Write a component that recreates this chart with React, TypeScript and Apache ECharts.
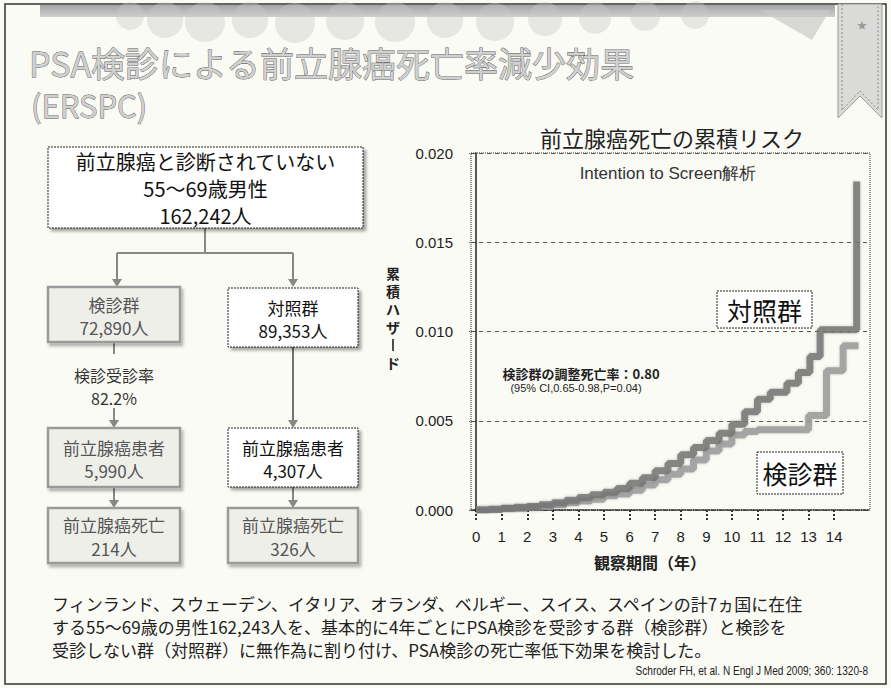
import React, { useEffect, useRef } from 'react';
import * as echarts from 'echarts';

// ---- data ----
const xTicks = [0, 1, 2, 3, 4, 5, 6, 7, 8, 9, 10, 11, 12, 13, 14];
const yTickStep = 0.005;
const controlYears = [0, 0.5, 1, 1.5, 2, 2.5, 3, 3.5, 4, 4.5, 5, 5.5, 6, 6.5, 7, 7.5, 8, 8.5, 9, 9.5, 10, 10.5, 11, 11.5, 12.15, 12.6, 13.05, 13.45, 14.88];
const controlHazard = [0, 0.00004, 0.0001, 0.00015, 0.0002, 0.0003, 0.0004, 0.00055, 0.0007, 0.00085, 0.001, 0.0012, 0.0015, 0.0018, 0.0022, 0.0026, 0.0031, 0.0035, 0.0039, 0.0043, 0.0048, 0.0055, 0.0062, 0.0066, 0.0071, 0.0077, 0.0086, 0.0101, 0.0184];
const screeningYears = [0, 0.5, 1, 1.5, 2, 2.5, 3, 3.5, 4, 4.5, 5, 5.5, 6, 6.5, 7, 7.5, 8, 8.5, 9, 9.5, 10, 10.5, 11, 13.0, 13.7, 14.35, 14.95];
const screeningHazard = [0, 0.00003, 0.00008, 0.0001, 0.00015, 0.0002, 0.0003, 0.0004, 0.0005, 0.0006, 0.0008, 0.0009, 0.0011, 0.0014, 0.0017, 0.002, 0.0023, 0.0028, 0.0033, 0.0037, 0.0042, 0.0044, 0.0045, 0.0053, 0.0078, 0.0092, 0.0092];

const slideTitle = ['PSA検診による前立腺癌死亡率減少効果', '(ERSPC)'];
const chartTitle = '前立腺癌死亡の累積リスク';
const subTitle = 'Intention to Screen解析';
const yAxisName = ['累', '積', 'ハ', 'ザ', 'ー', 'ド'];
const xAxisName = '観察期間（年）';
const controlLabel = '対照群';
const screeningLabel = '検診群';
const resultLines = ['検診群の調整死亡率：0.80', '(95% CI,0.65-0.98,P=0.04)'];
const flowTexts = {
  top: ['前立腺癌と診断されていない', '55〜69歳男性', '162,242人'],
  screen: ['検診群', '72,890人'],
  control: ['対照群', '89,353人'],
  rate: ['検診受診率', '82.2%'],
  screenPatients: ['前立腺癌患者', '5,990人'],
  controlPatients: ['前立腺癌患者', '4,307人'],
  screenDeaths: ['前立腺癌死亡', '214人'],
  controlDeaths: ['前立腺癌死亡', '326人'],
};
const bodyLines = [
  'フィンランド、スウェーデン、イタリア、オランダ、ベルギー、スイス、スペインの計7ヵ国に在住',
  'する55〜69歳の男性162,243人を、基本的に4年ごとにPSA検診を受診する群（検診群）と検診を',
  '受診しない群（対照群）に無作為に割り付け、PSA検診の死亡率低下効果を検討した。',
];
const citation = 'Schroder FH, et al. N Engl J Med 2009; 360: 1320-8';

const FF = "'Noto Sans CJK JP', 'Noto Sans', sans-serif";
const LF = "'Liberation Sans', Arial, sans-serif";

function box(x: number, y: number, w: number, h: number, lines: string[], kind: 'white' | 'gray', fontSize: number, lineHeight: number) {
  const rect = kind === 'white'
    ? { type: 'rect', shape: { x, y, width: w, height: h }, style: { fill: '#ffffff', stroke: '#222', lineWidth: 1, lineDash: [2, 1], shadowBlur: 3, shadowOffsetX: 3, shadowOffsetY: 3, shadowColor: 'rgba(0,0,0,0.35)' }, z: 10 }
    : { type: 'rect', shape: { x, y, width: w, height: h }, style: { fill: '#efefea', stroke: '#9a9a9a', lineWidth: 2.5, shadowBlur: 3, shadowOffsetX: 2, shadowOffsetY: 3, shadowColor: 'rgba(0,0,0,0.3)' }, z: 10 };
  const text = {
    type: 'text', x: x + w / 2, y: y + h / 2 + 1, z: 11,
    style: { text: lines.join('\n'), fill: kind === 'white' ? '#111' : '#555', font: `${fontSize}px ${FF}`, align: 'center', verticalAlign: 'middle', lineHeight },
  };
  return [rect, text];
}

function vline(x: number, y1: number, y2: number, color = '#888', width = 2) {
  return { type: 'line', shape: { x1: x, y1, x2: x, y2 }, style: { stroke: color, lineWidth: width }, z: 9 };
}
function hline(x1: number, x2: number, y: number, color = '#888', width = 2) {
  return { type: 'line', shape: { x1, y1: y, x2, y2: y }, style: { stroke: color, lineWidth: width }, z: 9 };
}
function arrowHead(x: number, y: number, color = '#888') {
  return { type: 'polygon', shape: { points: [[x - 5, y - 8], [x + 5, y - 8], [x, y]] }, style: { fill: color }, z: 9 };
}

export default function App() {
  const ref = useRef<HTMLDivElement>(null);
  useEffect(() => {
    document.body.style.margin = '0';
    const chart = echarts.init(ref.current!, null, { renderer: 'svg' });

    const graphics: any[] = [];
    // slide frame
    graphics.push({ type: 'rect', shape: { x: 5, y: 4, width: 881, height: 680 }, style: { fill: 'none', stroke: '#333', lineWidth: 1.5 }, z: 1 });
    // header band and clouds
    graphics.push({ type: 'rect', shape: { x: 40, y: 5, width: 795, height: 12 }, style: { fill: new echarts.graphic.LinearGradient(0, 0, 0, 1, [{ offset: 0, color: '#a4a4a4' }, { offset: 1, color: '#cfcfcf' }]) }, z: 1 });
    const clouds = [[130, 16, 14], [165, 20, 18], [205, 22, 20], [250, 20, 18], [295, 23, 20], [345, 21, 19], [395, 22, 20], [445, 20, 18], [495, 22, 19], [545, 19, 17], [595, 18, 16], [645, 16, 15], [695, 15, 14]];
    clouds.forEach(([cx, cy, r]) => graphics.push({ type: 'circle', shape: { cx, cy, r }, style: { fill: '#c8c8c8', opacity: 0.4 }, z: 1 }));
    graphics.push({ type: 'polygon', shape: { points: [[760, 10], [830, 10], [812, 40]] }, style: { fill: '#c9c9c9', opacity: 0.7 }, z: 1 });
    // ribbon
    graphics.push({ type: 'polygon', shape: { points: [[838, 4], [882, 4], [882, 118], [860, 96], [838, 118]] }, style: { fill: '#dadad8', stroke: '#999', lineWidth: 1 }, z: 2 });
    graphics.push({ type: 'polyline', shape: { points: [[842, 4], [842, 110], [860, 91], [878, 110], [878, 4]] }, style: { stroke: '#888', lineWidth: 1, lineDash: [2, 2], fill: 'none' }, z: 2 });
    graphics.push({ type: 'text', x: 862, y: 24, style: { text: '★', fill: '#999', font: `10px ${FF}`, align: 'center', verticalAlign: 'middle' }, z: 3 });
    // slide title
    graphics.push({ type: 'text', x: 29, y: 62, style: { text: slideTitle[0], fill: '#d0d0d0', stroke: '#555', lineWidth: 0.8, font: `34px ${FF}`, align: 'left', verticalAlign: 'middle', lineHeight: 34 }, z: 4 });
    graphics.push({ type: 'text', x: 31, y: 104, style: { text: slideTitle[1], fill: '#d0d0d0', stroke: '#555', lineWidth: 0.8, font: `31px ${FF}`, align: 'left', verticalAlign: 'middle', lineHeight: 31 }, z: 4 });

    // flowchart
    graphics.push(...box(48, 147, 315, 81, flowTexts.top, 'white', 20, 27));
    graphics.push(...box(48, 287, 132, 55, flowTexts.screen, 'gray', 17, 23));
    graphics.push(...box(228, 288, 130, 59, flowTexts.control, 'white', 17, 23));
    graphics.push(...box(48, 428, 132, 59, flowTexts.screenPatients, 'gray', 17, 23));
    graphics.push(...box(228, 428, 130, 59, flowTexts.controlPatients, 'white', 17, 23));
    graphics.push(...box(48, 508, 132, 55, flowTexts.screenDeaths, 'gray', 17, 24));
    graphics.push(...box(228, 508, 130, 55, flowTexts.controlDeaths, 'gray', 17, 24));
    graphics.push({ type: 'text', x: 114, y: 386, style: { text: flowTexts.rate.join('\n'), fill: '#333', font: `16px ${FF}`, align: 'center', verticalAlign: 'middle', lineHeight: 23 }, z: 11 });
    graphics.push(vline(205, 228, 253));
    graphics.push(hline(117, 293, 253));
    graphics.push(vline(117, 253, 280), arrowHead(117, 287));
    graphics.push(vline(293, 253, 280), arrowHead(293, 287));
    graphics.push(vline(114, 342, 354));
    graphics.push(vline(114, 408, 421), arrowHead(114, 428));
    graphics.push(vline(293, 347, 421, '#444', 1.5), arrowHead(293, 428));
    graphics.push(vline(114, 487, 501), arrowHead(114, 508));
    graphics.push(vline(293, 487, 501), arrowHead(293, 508));

    // chart annotations
    graphics.push({ type: 'text', x: 668, y: 173, style: { text: subTitle, fill: '#333', font: `17px ${LF}`, align: 'center', verticalAlign: 'middle' }, z: 20 });
    // vertical y-axis name: one text block; the long-vowel mark is drawn as a vertical stroke
    const nameLH = 18;
    const nameTop = 264;
    const nameText = yAxisName.map((ch) => (ch === 'ー' ? '{h|ー}' : ch)).join('\n');
    graphics.push({ type: 'text', x: 393, y: nameTop, style: { text: nameText, fill: '#222', font: `bold 14px ${FF}`, align: 'center', verticalAlign: 'top', lineHeight: nameLH, rich: { h: { fill: 'rgba(0,0,0,0)', font: `bold 14px ${FF}`, lineHeight: nameLH } } }, z: 20 });
    const dashIdx = yAxisName.indexOf('ー');
    const dashY = nameTop + nameLH * dashIdx + nameLH / 2;
    graphics.push({ type: 'line', shape: { x1: 393, y1: dashY - 6, x2: 393, y2: dashY + 6 }, style: { stroke: '#222', lineWidth: 1.6 }, z: 20 });
    graphics.push({ type: 'text', x: 650, y: 562, style: { text: xAxisName, fill: '#222', font: `bold 16px ${FF}`, align: 'center', verticalAlign: 'middle' }, z: 20 });
    graphics.push({ type: 'text', x: 581, y: 373, style: { text: resultLines[0], fill: '#222', font: `bold 13px ${FF}`, align: 'center', verticalAlign: 'middle' }, z: 20 });
    graphics.push({ type: 'text', x: 576, y: 388, style: { text: resultLines[1], fill: '#222', font: `11px ${LF}`, align: 'center', verticalAlign: 'middle' }, z: 20 });
    graphics.push({ type: 'rect', shape: { x: 717, y: 291, width: 95, height: 37 }, style: { fill: '#ffffff', stroke: '#222', lineWidth: 1, lineDash: [2, 1] }, z: 20 });
    graphics.push({ type: 'text', x: 764.5, y: 310, style: { text: controlLabel, fill: '#111', font: `25px ${FF}`, align: 'center', verticalAlign: 'middle' }, z: 21 });
    graphics.push({ type: 'rect', shape: { x: 757, y: 452, width: 86, height: 42 }, style: { fill: '#ffffff', stroke: '#222', lineWidth: 1, lineDash: [2, 1] }, z: 20 });
    graphics.push({ type: 'text', x: 800, y: 473, style: { text: screeningLabel, fill: '#111', font: `25px ${FF}`, align: 'center', verticalAlign: 'middle' }, z: 21 });

    // body text
    bodyLines.forEach((t, i) => {
      graphics.push({ type: 'text', x: 52, y: 603 + i * 23, style: { text: t, fill: '#222', font: `17px ${FF}`, align: 'left', verticalAlign: 'middle', lineHeight: 17 }, z: 20 });
    });
    graphics.push({ type: 'text', x: 868, y: 671, scaleX: 0.84, style: { text: citation, fill: '#222', font: `12px ${LF}`, align: 'right', verticalAlign: 'middle', lineHeight: 12 }, z: 20 });

    const option: any = {
      animation: false,
      backgroundColor: '#fbfbf5',
      title: {
        text: chartTitle, left: 667, top: 121, textAlign: 'center',
        textStyle: { fontFamily: FF, fontSize: 22, fontWeight: 'normal', color: '#222' },
      },
      grid: { left: 471, right: 21, top: 153, bottom: 178, show: true, borderColor: '#333', borderWidth: 1, borderType: 'dotted', backgroundColor: 'transparent' },
      xAxis: {
        type: 'value', min: -0.2, max: 15.4,
        axisLine: { show: true, onZero: false, lineStyle: { color: '#333', type: 'dotted', width: 1.5 } },
        axisTick: { show: true, customValues: xTicks, length: 12, lineStyle: { color: '#333', type: 'dotted', width: 2 } },
        axisLabel: { customValues: xTicks, margin: 19, fontSize: 15, color: '#222', fontFamily: LF },
        splitLine: { show: false },
      },
      yAxis: {
        type: 'value', min: 0, max: 0.02, interval: yTickStep,
        axisLine: { show: true, lineStyle: { color: '#222', width: 1.5 } },
        axisTick: { show: true, length: 7, lineStyle: { color: '#444', type: 'dotted' } },
        axisLabel: { margin: 18, fontSize: 15, color: '#222', fontFamily: LF, formatter: (v: number) => v.toFixed(3) },
        splitLine: { show: true, lineStyle: { color: '#555', type: [4, 4], width: 1 } },
      },
      series: [
        {
          name: '対照群', type: 'line', step: 'end', symbol: 'none', z: 3,
          data: controlYears.map((x, i) => [x, controlHazard[i]]),
          lineStyle: { color: '#767676', width: 7, opacity: 0.85, shadowBlur: 3, shadowColor: 'rgba(0,0,0,0.25)' },
        },
        {
          name: '検診群', type: 'line', step: 'end', symbol: 'none', z: 2,
          data: screeningYears.map((x, i) => [x, screeningHazard[i]]),
          lineStyle: { color: '#9a9a9a', width: 7, opacity: 0.85, shadowBlur: 3, shadowColor: 'rgba(0,0,0,0.2)' },
        },
      ],
      graphic: graphics,
    };
    chart.setOption(option);
    return () => chart.dispose();
  }, []);
  return <div ref={ref} style={{ width: 891, height: 688 }} />;
}
